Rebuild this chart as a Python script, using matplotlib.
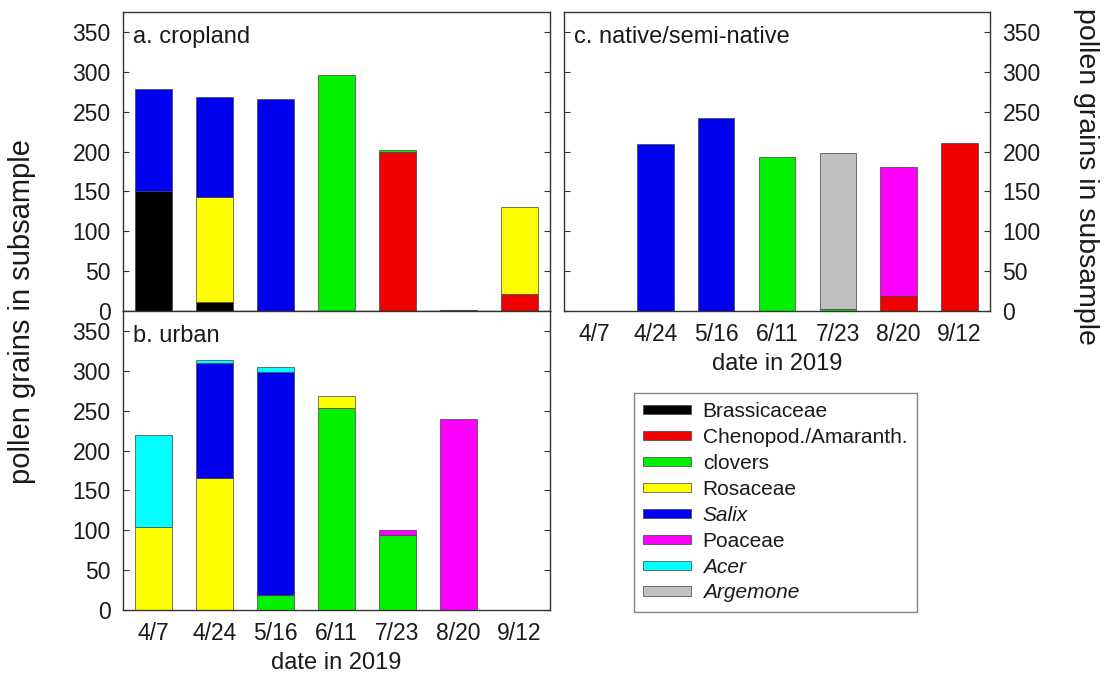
import numpy as np
import matplotlib
matplotlib.use("Agg")
import matplotlib.pyplot as plt
from matplotlib.patches import Patch

plt.rcParams['font.family'] = ['Liberation Sans', 'DejaVu Sans']

dates = ['4/7', '4/24', '5/16', '6/11', '7/23', '8/20', '9/12']
taxa = ['Brassicaceae', 'Chenopod./Amaranth.', 'clovers', 'Rosaceae',
        'Salix', 'Poaceae', 'Acer', 'Argemone']
italic_taxa = ['Salix', 'Acer', 'Argemone']
colors = ['#000000', '#f00000', '#00f000', '#ffff00',
          '#0000f0', '#ff00ff', '#00ffff', '#c0c0c0']

# a. cropland
crop_brass = [151, 11, 0, 0, 0, 1, 0]
crop_cheno = [0, 0, 0, 0, 199, 0, 21]
crop_clover = [0, 0, 0, 296, 3, 0, 0]
crop_rosa = [0, 132, 0, 0, 0, 0, 110]
crop_salix = [128, 126, 266, 0, 0, 0, 0]
crop_poa = [0, 0, 0, 0, 0, 0, 0]
crop_acer = [0, 0, 0, 0, 0, 0, 0]
crop_arg = [0, 0, 0, 0, 0, 0, 0]

# b. urban
urb_brass = [0, 0, 0, 0, 0, 0, 0]
urb_cheno = [0, 0, 0, 0, 0, 0, 0]
urb_clover = [0, 0, 19, 253, 94, 0, 0]
urb_rosa = [104, 166, 0, 16, 0, 0, 0]
urb_salix = [0, 144, 280, 0, 0, 0, 0]
urb_poa = [0, 0, 0, 0, 6, 240, 0]
urb_acer = [116, 4, 6, 0, 0, 0, 0]
urb_arg = [0, 0, 0, 0, 0, 0, 0]

# c. native/semi-native
nat_brass = [0, 0, 0, 0, 0, 0, 0]
nat_cheno = [0, 0, 0, 0, 0, 19, 211]
nat_clover = [0, 0, 0, 193, 2, 0, 0]
nat_rosa = [0, 0, 0, 0, 0, 0, 0]
nat_salix = [0, 209, 242, 0, 0, 0, 0]
nat_poa = [0, 0, 0, 0, 0, 161, 0]
nat_acer = [0, 0, 0, 0, 0, 0, 0]
nat_arg = [0, 0, 0, 0, 196, 0, 0]

crop = [crop_brass, crop_cheno, crop_clover, crop_rosa, crop_salix, crop_poa, crop_acer, crop_arg]
urb = [urb_brass, urb_cheno, urb_clover, urb_rosa, urb_salix, urb_poa, urb_acer, urb_arg]
nat = [nat_brass, nat_cheno, nat_clover, nat_rosa, nat_salix, nat_poa, nat_acer, nat_arg]

W, H = 1110, 675
fig = plt.figure(figsize=(W / 100, H / 100), dpi=100)

def box(l, t, r, b):
    return [l / W, 1 - b / H, (r - l) / W, (b - t) / H]

axa = fig.add_axes(box(123, 12, 550, 311))
axb = fig.add_axes(box(123, 311, 550, 610))
axc = fig.add_axes(box(564, 12, 990, 311))

txt = '#1a1a1a'
x = np.arange(len(dates))

def draw(ax, stacks, title):
    bottom = np.zeros(len(dates))
    for vals, c in zip(stacks, colors):
        vals = np.array(vals, dtype=float)
        m = vals > 0
        ax.bar(x[m], vals[m], bottom=bottom[m], width=0.6, color=c,
               edgecolor='#404040', linewidth=0.5)
        bottom += vals
    ax.set_xlim(-0.5, 6.5)
    ax.set_ylim(0, 375)
    ax.set_yticks(np.arange(0, 351, 50))
    ax.set_xticks(x)
    ax.set_xticklabels(dates)
    ax.tick_params(axis='y', direction='in', length=4, width=0.8, left=True,
                   right=True, labelsize=16.5, pad=9, colors='#333333', labelcolor=txt)
    ax.tick_params(axis='x', length=0, labelsize=16.5, pad=9, labelcolor=txt)
    for s in ax.spines.values():
        s.set_color('#333333')
        s.set_linewidth(1.0)
    ax.text(0.024, 0.897, title, transform=ax.transAxes, fontsize=17,
            color=txt, va='baseline', ha='left')

draw(axa, crop, 'a. cropland')
draw(axb, urb, 'b. urban')
draw(axc, nat, 'c. native/semi-native')

axa.tick_params(axis='x', labelbottom=False)
axb.set_xlabel('date in 2019', fontsize=17, color=txt, labelpad=5)
axc.set_xlabel('date in 2019', fontsize=17, color=txt, labelpad=5)
axc.tick_params(axis='y', labelleft=False, labelright=True)

fig.text(22 / W, 1 - 312 / H, 'pollen grains in subsample', rotation=90,
         fontsize=21, color=txt, ha='center', va='center')
fig.text(1086 / W, 1 - 176 / H, 'pollen grains in subsample', rotation=270,
         fontsize=20.5, color=txt, ha='center', va='center')

handles = [Patch(facecolor=c, edgecolor='#404040', linewidth=0.5) for c in colors]
leg = fig.legend(handles, taxa, loc='upper left',
                 bbox_to_anchor=(634 / W, 1 - 393 / H), borderaxespad=0,
                 fontsize=15, handlelength=2.3, handleheight=0.3,
                 handletextpad=0.55, labelspacing=0.33, borderpad=0.45,
                 fancybox=False, frameon=True)
leg.get_frame().set_edgecolor('#666666')
leg.get_frame().set_linewidth(1.0)
for t in leg.get_texts():
    t.set_color(txt)
    if t.get_text() in italic_taxa:
        t.set_fontstyle('italic')

fig.savefig('out.png', dpi=100)
